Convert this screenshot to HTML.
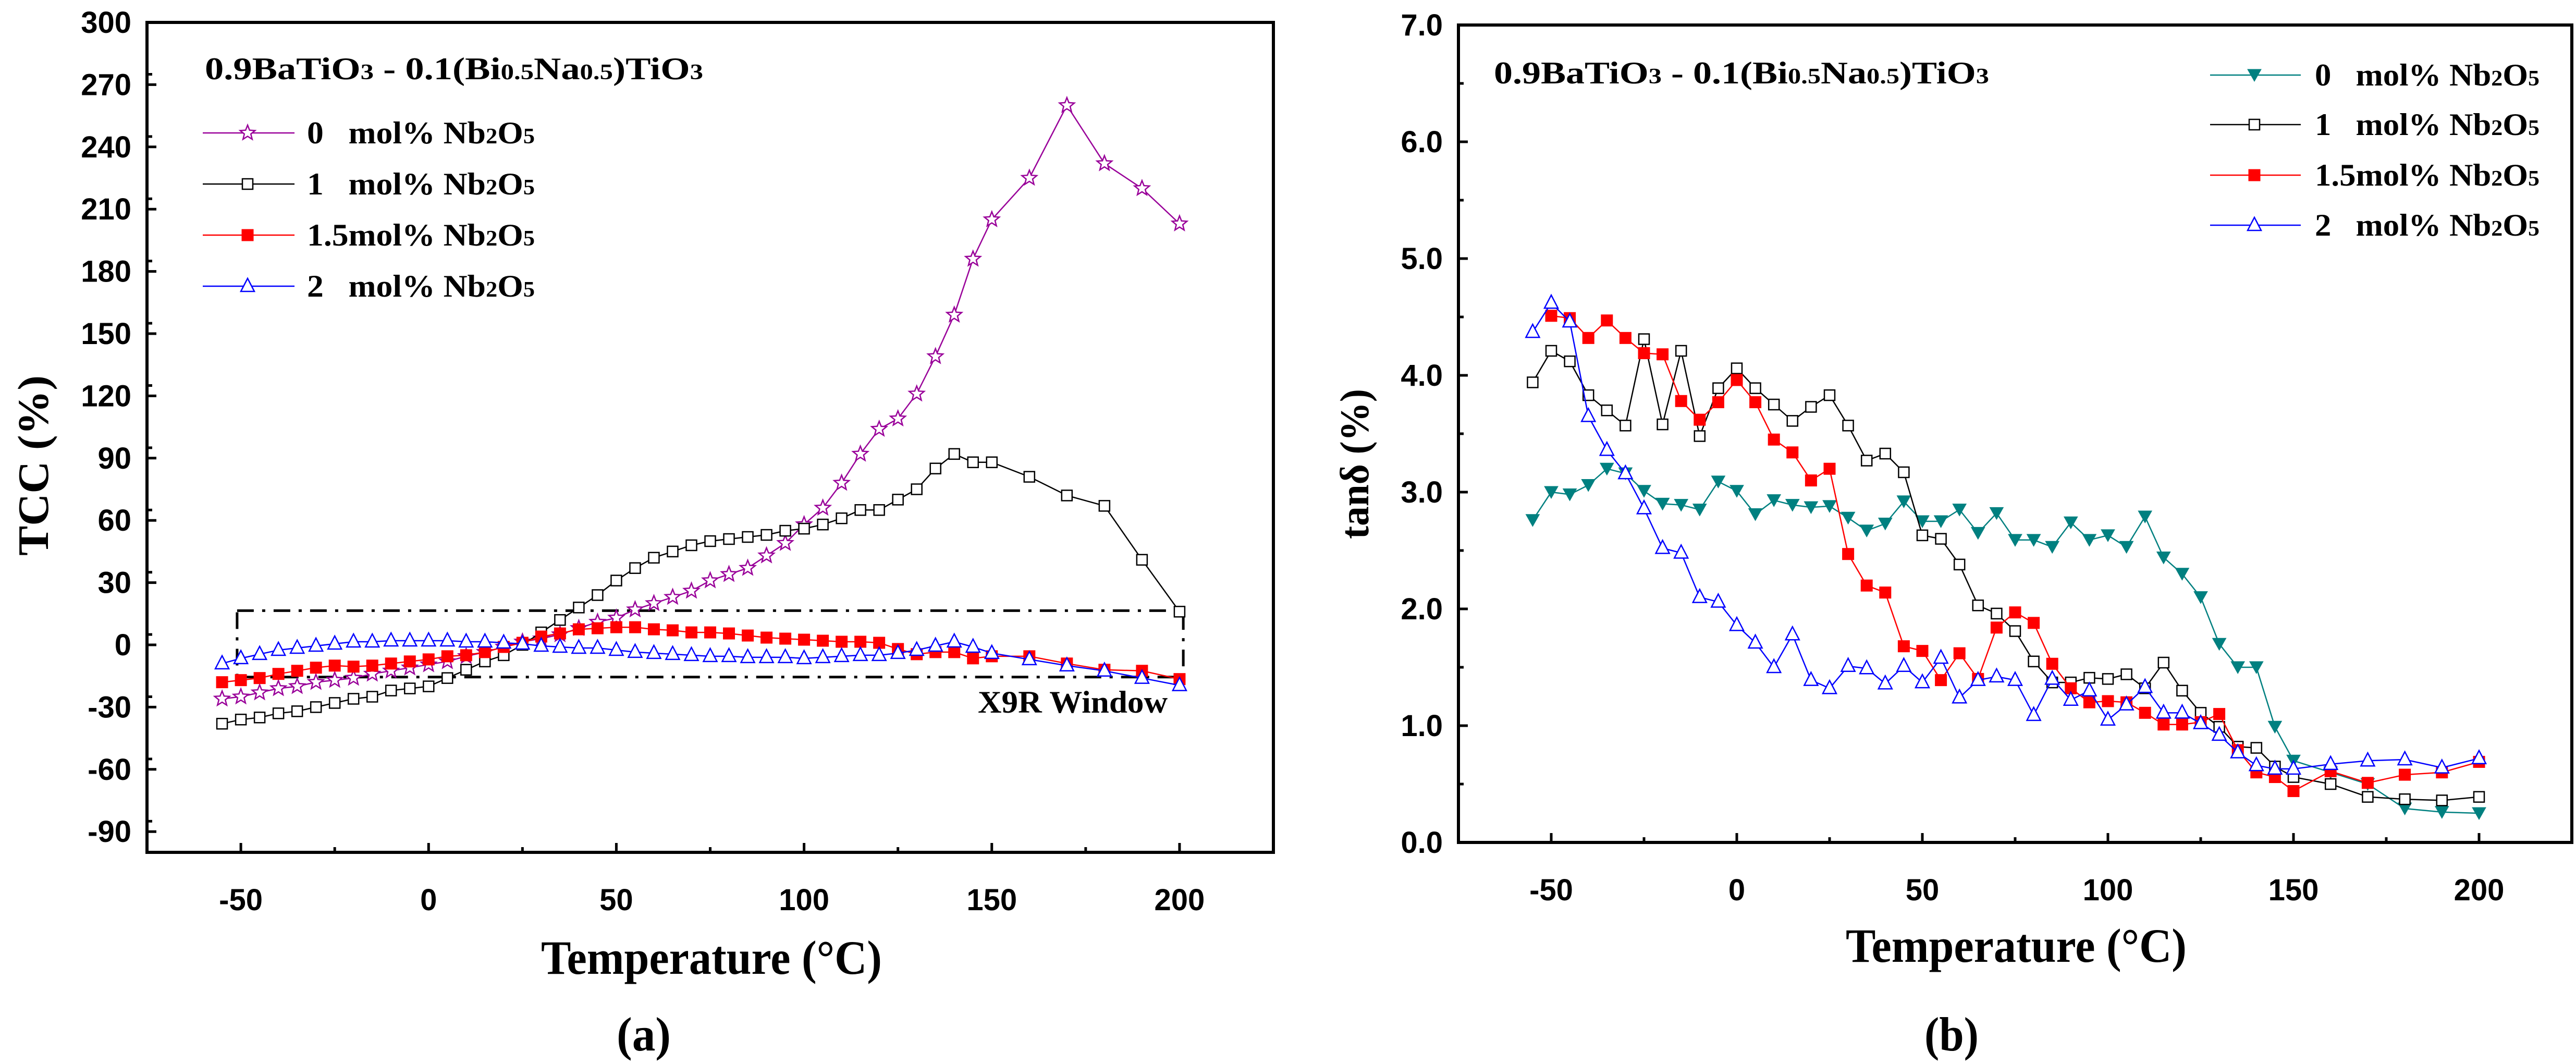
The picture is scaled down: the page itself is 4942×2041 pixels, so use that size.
<!DOCTYPE html>
<html><head><meta charset="utf-8"><style>
html,body{margin:0;padding:0;background:#fff}
svg{display:block}
</style></head><body>
<svg id="chart" width="4942" height="2041" viewBox="0 0 4942 2041" xmlns="http://www.w3.org/2000/svg">
<rect width="4942" height="2041" fill="#fff"/>
<g id="pa"></g>
<g id="pb"></g>
</svg>
<script>
// ---- Panel (a) data: TCC (%) ----
const xa1 = [-55,-50,-45,-40,-35,-30,-25,-20,-15,-10,-5,0,5,10,15,20,25,30,35,40,45,50,55,60,65,70,75,80,85,90,95,100,105,110,115,120,125,130,135,140,145,150,160,170,180,190,200];
const tcc0 = [-26,-25,-23,-21,-20,-18,-17,-16,-14,-12.5,-11,-9.5,-8,-5.5,-3.5,-1,1.5,3,5,8,11,13,17,20,23,26,31,34,37,43,49,58,66,78,92,104,109,121,139,159,186,205,225,260,232,220,203];
const tcc1 = [-38,-36,-35,-33,-32,-30,-28,-26,-25,-22,-21,-20,-16,-12,-8,-5,0,6,12,18,24,31,37,42,45,48,50,51,52,53,55,56,58,61,65,65,70,75,85,92,88,88,81,72,67,41,16];
const tcc15 = [-18,-17,-16,-14,-12.5,-11,-10,-10.5,-10,-9,-8,-7,-5.5,-5,-3.5,-1,1,4,5.5,7.5,8,8.5,8.5,7.5,7,6,6,5.5,4.5,3.5,3,2.5,2,1.5,1.5,1,-2,-4.5,-3.5,-3.5,-6.5,-5.5,-5.5,-9,-12,-12.5,-16.5];
const tcc2 = [-9,-6.5,-4.5,-2.5,-1.5,-0.5,0.5,1.5,1.5,2,2,2,2,1.5,1.5,1,0.5,-0.5,-1,-1.5,-1.5,-2.5,-3.5,-4,-4.5,-5,-5.5,-5.5,-6,-6,-6,-6.5,-6,-5.5,-5,-5,-4,-2.5,-0.5,1.5,-1,-4,-7,-10,-12.5,-16,-19.5];
const yTicksA = [-90,-60,-30,0,30,60,90,120,150,180,210,240,270,300];
const xTicks = [-50,0,50,100,150,200];
const windowA = [-51, 201, 16.5, -15.5];
// ---- Panel (b) data: tan delta (%) ----
const xb0 = xa1;
const tan0 = [2.76,3.0,2.98,3.06,3.2,3.16,3.01,2.9,2.89,2.85,3.09,3.01,2.81,2.93,2.89,2.87,2.88,2.78,2.67,2.73,2.92,2.75,2.75,2.85,2.65,2.82,2.59,2.59,2.53,2.74,2.59,2.63,2.53,2.79,2.44,2.3,2.1,1.7,1.5,1.5,0.99,0.7,0.6,0.5,0.29,0.26,0.25];
const tan1 = [3.94,4.21,4.12,3.83,3.7,3.57,4.31,3.58,4.21,3.48,3.89,4.06,3.89,3.75,3.61,3.73,3.83,3.57,3.27,3.33,3.17,2.63,2.6,2.38,2.03,1.96,1.81,1.55,1.37,1.37,1.41,1.4,1.44,1.32,1.54,1.3,1.11,0.99,0.82,0.81,0.65,0.56,0.5,0.39,0.37,0.36,0.39];
const xb15 = [-50,-45,-40,-35,-30,-25,-20,-15,-10,-5,0,5,10,15,20,25,30,35,40,45,50,55,60,65,70,75,80,85,90,95,100,105,110,115,120,125,130,135,140,145,150,160,170,180,190,200];
const tan15 = [4.51,4.49,4.32,4.47,4.32,4.19,4.18,3.78,3.62,3.77,3.96,3.77,3.45,3.34,3.1,3.2,2.47,2.2,2.14,1.68,1.64,1.39,1.62,1.4,1.84,1.97,1.88,1.53,1.32,1.2,1.21,1.2,1.11,1.01,1.01,1.03,1.1,0.79,0.6,0.56,0.44,0.61,0.51,0.58,0.6,0.69];
const tan2 = [4.37,4.62,4.46,3.65,3.36,3.16,2.86,2.52,2.48,2.1,2.06,1.86,1.71,1.5,1.78,1.39,1.32,1.51,1.49,1.36,1.51,1.37,1.58,1.24,1.39,1.42,1.39,1.09,1.4,1.22,1.3,1.05,1.18,1.33,1.11,1.11,1.02,0.92,0.77,0.66,0.63,0.63,0.67,0.7,0.71,0.64,0.72];
const yTicksB = [0,1,2,3,4,5,6,7];
const legendLabels = ["0\u00a0\u00a0\u00a0mol%\u00a0Nb", "1\u00a0\u00a0\u00a0mol%\u00a0Nb", "1.5mol%\u00a0Nb", "2\u00a0\u00a0\u00a0mol%\u00a0Nb"];

const NS = "http://www.w3.org/2000/svg";
function mk(parent, tag, attrs, text){
  const e = document.createElementNS(NS, tag);
  for (const k in attrs) e.setAttribute(k, attrs[k]);
  if (text !== undefined) e.textContent = text;
  parent.appendChild(e);
  return e;
}
function scale(d0,d1,p0,p1){ return v => p0 + (v-d0)*(p1-p0)/(d1-d0); }

function marker(g, type, cx, cy){
  let e;
  if (type==='star'){
    const pts=[]; const R=15, r=6.5;
    for(let i=0;i<10;i++){const a=-Math.PI/2+i*Math.PI/5; const rr=i%2?r:R; pts.push((cx+rr*Math.cos(a)).toFixed(1)+','+(cy+rr*Math.sin(a)).toFixed(1));}
    e = mk(g,'polygon',{points:pts.join(' '),fill:'#fff',stroke:'#990099','stroke-width':2.5});
  } else if (type==='osq'){
    e = mk(g,'rect',{x:cx-10,y:cy-10,width:20,height:20,fill:'#fff',stroke:'#000','stroke-width':2.5});
  } else if (type==='fsq'){
    e = mk(g,'rect',{x:cx-11,y:cy-11,width:22,height:22,fill:'#ff0000',stroke:'#ff0000','stroke-width':1});
  } else if (type==='otri'){
    e = mk(g,'polygon',{points:`${cx},${cy-15} ${cx+13},${cy+10} ${cx-13},${cy+10}`,fill:'#fff',stroke:'#0000ff','stroke-width':2.5});
  } else if (type==='dtri'){
    e = mk(g,'polygon',{points:`${cx-13},${cy-11} ${cx+13},${cy-11} ${cx},${cy+12}`,fill:'#008080',stroke:'#008080','stroke-width':1});
  }
  
  
  return e;
}

function series(g, name, xs, ys, sx, sy, color, type){
  const sg = mk(g,'g',{});
  
  
  const d = xs.map((x,i)=>(i?'L':'M')+sx(x).toFixed(1)+','+sy(ys[i]).toFixed(1)).join(' ');
  const p = mk(sg,'path',{d:d,fill:'none',stroke:color,'stroke-width':2.5});
  
  
  xs.forEach((x,i)=>marker(sg,type,sx(x),sy(ys[i])));
}

function formula(g, x, y, len, size){
  const t = mk(g,'text',{x:x,y:y,'font-family':'"Liberation Serif", serif','font-weight':'bold','font-size':size,textLength:len,lengthAdjust:'spacingAndGlyphs'});
  
  
  const parts = [["0.9BaTiO",1],["3",0.7],["\u00a0-\u00a00.1(Bi",1],["0.5",0.7],["Na",1],["0.5",0.7],[")TiO",1],["3",0.7]];
  parts.forEach(p=>{ mk(t,'tspan',{'font-size':size*p[1]}, p[0]); });
}

function legend(g, x0, x1, xm, xt, tlen, rows, items, size){
  items.forEach((it,i)=>{
    const lg = mk(g,'g',{});
    
    
    const y = rows[i];
    mk(lg,'line',{x1:x0,y1:y,x2:x1,y2:y,stroke:it.c,'stroke-width':2.5});
    marker(lg,it.t,xm,y);
    const t = mk(lg,'text',{x:xt,y:y+20,'font-family':'"Liberation Serif", serif','font-weight':'bold','font-size':size,textLength:tlen,lengthAdjust:'spacingAndGlyphs'});
    
    
    mk(t,'tspan',{},legendLabels[i]);
    mk(t,'tspan',{'font-size':size*0.7},"2");
    mk(t,'tspan',{},"O");
    mk(t,'tspan',{'font-size':size*0.7},"5");
  });
}

function axes(g, L,R,T,B, sx, sy, yTicks, yMinor, yFmt){
  const f = mk(g,'rect',{x:L,y:T,width:R-L,height:B-T,fill:'none',stroke:'#000','stroke-width':6});
  
  
  const xg = mk(g,'g',{});  
  xTicks.forEach(v=>{
    const x=sx(v);
    mk(xg,'line',{x1:x,y1:B,x2:x,y2:B-18,stroke:'#000','stroke-width':5});
    const t=mk(xg,'text',{x:x,y:B+111,'text-anchor':'middle','font-family':'"Liberation Sans", sans-serif','font-weight':'bold','font-size':58},String(v));
     
  });
  for(let i=0;i<xTicks.length-1;i++){ const x=sx((xTicks[i]+xTicks[i+1])/2); mk(xg,'line',{x1:x,y1:B,x2:x,y2:B-10,stroke:'#000','stroke-width':5}); }
  const yg = mk(g,'g',{});  
  yTicks.forEach(v=>{
    const y=sy(v);
    mk(yg,'line',{x1:L,y1:y,x2:L+18,y2:y,stroke:'#000','stroke-width':5});
    const t=mk(yg,'text',{x:L-30,y:y+20,'text-anchor':'end','font-family':'"Liberation Sans", sans-serif','font-weight':'bold','font-size':58},yFmt(v));
     
  });
  yMinor.forEach(v=>{ const y=sy(v); mk(yg,'line',{x1:L,y1:y,x2:L+10,y2:y,stroke:'#000','stroke-width':5}); });
}

function text(g,name,x,y,str,size,len,rot){
  const a={x:x,y:y,'text-anchor':'middle','font-family':'"Liberation Serif", serif','font-weight':'bold','font-size':size,textLength:len,lengthAdjust:'spacingAndGlyphs'};
  if(rot) a.transform=`rotate(-90 ${x} ${y})`;
  const t=mk(g,'text',a,str);
  
  
  return t;
}

// ----- Panel A -----
(function(){
  const g=document.getElementById('pa');
  const L=282,R=2443,T=43,B=1635;
  const sx=scale(-75,225,L,R), sy=scale(-100,300,B,T);
  const minor=[]; for(let v=-85; v<300; v+=30) minor.push(v);
  axes(g,L,R,T,B,sx,sy,yTicksA,minor,v=>String(v));
  const w=mk(g,'rect',{x:sx(windowA[0]),y:sy(windowA[2]),width:sx(windowA[1])-sx(windowA[0]),height:sy(windowA[3])-sy(windowA[2]),fill:'none',stroke:'#000','stroke-width':5,'stroke-dasharray':'32,16,6,16'});
   
  const wt=mk(g,'text',{x:1876,y:1367,'font-family':'"Liberation Serif", serif','font-weight':'bold','font-size':60,textLength:364,lengthAdjust:'spacingAndGlyphs'},'X9R Window');
   
  series(g,'series-0mol',xa1,tcc0,sx,sy,'#990099','star');
  series(g,'series-1mol',xa1,tcc1,sx,sy,'#000','osq');
  series(g,'series-1-5mol',xa1,tcc15,sx,sy,'#ff0000','fsq');
  series(g,'series-2mol',xa1,tcc2,sx,sy,'#0000ff','otri');
  formula(g,393,152,956,60);
  legend(g,389,565,475,589,437,[255,353,451,549],[{c:'#990099',t:'star'},{c:'#000',t:'osq'},{c:'#ff0000',t:'fsq'},{c:'#0000ff',t:'otri'}],60);
  text(g,'x-axis-title',1365,1868,'Temperature (°C)',92,654);
  text(g,'y-axis-title',92,893,'TCC (%)',84,346,true);
  text(g,'panel-label-a',1235,2015,'(a)',92,104);
})();
// ----- Panel B -----
(function(){
  const g=document.getElementById('pb');
  const L=2798,R=4934,T=48,B=1616;
  const sx=scale(-75,225,L,R), sy=scale(0,7,B,T);
  const minor=[]; for(let v=0.5; v<7; v+=1) minor.push(v);
  axes(g,L,R,T,B,sx,sy,yTicksB,minor,v=>v.toFixed(1));
  series(g,'series-0mol',xb0,tan0,sx,sy,'#008080','dtri');
  series(g,'series-1mol',xb0,tan1,sx,sy,'#000','osq');
  series(g,'series-1-5mol',xb15,tan15,sx,sy,'#ff0000','fsq');
  series(g,'series-2mol',xb0,tan2,sx,sy,'#0000ff','otri');
  formula(g,2866,160,950,60);
  legend(g,4240,4414,4325,4441,431,[144,239,336,432],[{c:'#008080',t:'dtri'},{c:'#000',t:'osq'},{c:'#ff0000',t:'fsq'},{c:'#0000ff',t:'otri'}],60);
  text(g,'x-axis-title',3868,1845,'Temperature (°C)',92,654);
  text(g,'y-axis-title',2625,890,'tanδ (%)',78,288,true);
  text(g,'panel-label-b',3744,2015,'(b)',92,104);
})();
</script>
</body></html>
